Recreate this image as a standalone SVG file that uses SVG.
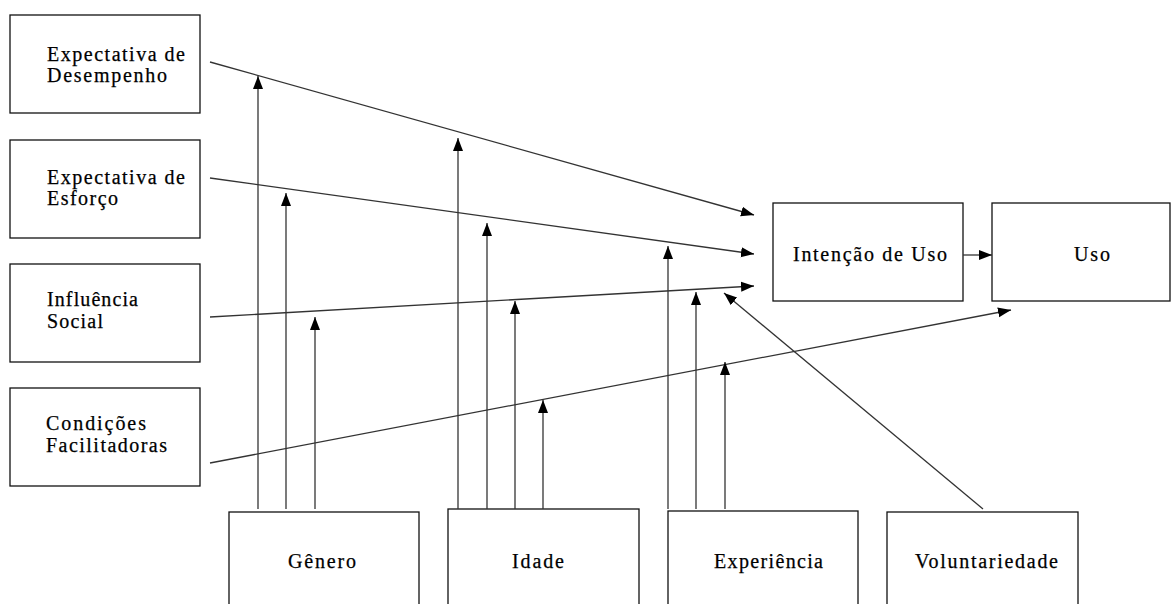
<svg xmlns="http://www.w3.org/2000/svg" width="1171" height="604" viewBox="0 0 1171 604">
<style>
.box{fill:#fff;stroke:#111;stroke-width:1.3}
.lbl{font-family:"Liberation Serif","Times New Roman",serif;font-size:20px;fill:#000;stroke:#000;stroke-width:0.25}
.ln{stroke:#333;stroke-width:1.3;fill:none}
</style>
<defs>
<marker id="ah" markerUnits="userSpaceOnUse" markerWidth="14" markerHeight="12" viewBox="0 0 14 12" refX="13" refY="6" orient="auto">
<path d="M0,1 L13,6 L0,11 Z" fill="#000"/>
</marker>
</defs>
<rect width="1171" height="604" fill="#fff"/>
<g id="n-desempenho"><rect class="box" x="10" y="15" width="190" height="98"/><text class="lbl" x="47" y="61" textLength="138" lengthAdjust="spacing">Expectativa de</text><text class="lbl" x="47" y="82" textLength="120" lengthAdjust="spacing">Desempenho</text></g>
<g id="n-esforco"><rect class="box" x="10" y="140" width="190" height="98"/><text class="lbl" x="47" y="184" textLength="138" lengthAdjust="spacing">Expectativa de</text><text class="lbl" x="47" y="205" textLength="71" lengthAdjust="spacing">Esforço</text></g>
<g id="n-influencia"><rect class="box" x="10" y="264" width="190" height="98"/><text class="lbl" x="47" y="306" textLength="91" lengthAdjust="spacing">Influência</text><text class="lbl" x="47" y="328" textLength="56" lengthAdjust="spacing">Social</text></g>
<g id="n-condicoes"><rect class="box" x="10" y="388" width="190" height="98"/><text class="lbl" x="46" y="430" textLength="100" lengthAdjust="spacing">Condições</text><text class="lbl" x="46" y="452" textLength="121" lengthAdjust="spacing">Facilitadoras</text></g>
<g id="n-intencao"><rect class="box" x="773" y="203" width="190" height="98"/><text class="lbl" x="793" y="261" textLength="154" lengthAdjust="spacing">Intenção de Uso</text></g>
<g id="n-uso"><rect class="box" x="992" y="203" width="178" height="98"/><text class="lbl" x="1074" y="261" textLength="36" lengthAdjust="spacing">Uso</text></g>
<g id="n-genero"><rect class="box" x="229" y="512" width="190" height="110"/><text class="lbl" x="288" y="568" textLength="68" lengthAdjust="spacing">Gênero</text></g>
<g id="n-idade"><rect class="box" x="448" y="509" width="191" height="110"/><text class="lbl" x="512" y="568" textLength="52" lengthAdjust="spacing">Idade</text></g>
<g id="n-experiencia"><rect class="box" x="668" y="511" width="190" height="110"/><text class="lbl" x="714" y="568" textLength="109" lengthAdjust="spacing">Experiência</text></g>
<g id="n-voluntariedade"><rect class="box" x="887" y="512" width="191" height="110"/><text class="lbl" x="915" y="568" textLength="143" lengthAdjust="spacing">Voluntariedade</text></g>
<g id="connectors">
<line class="ln" x1="210" y1="62" x2="754" y2="215" marker-end="url(#ah)"/>
<line class="ln" x1="210" y1="178" x2="754" y2="254" marker-end="url(#ah)"/>
<line class="ln" x1="210" y1="317" x2="754" y2="286" marker-end="url(#ah)"/>
<line class="ln" x1="210" y1="463" x2="1011" y2="310" marker-end="url(#ah)"/>
<line class="ln" x1="983" y1="509" x2="724" y2="293" marker-end="url(#ah)"/>
<line class="ln" x1="963" y1="255" x2="992" y2="255" marker-end="url(#ah)"/>
<line class="ln" x1="258" y1="509" x2="258" y2="76" marker-end="url(#ah)"/>
<line class="ln" x1="286" y1="509" x2="286" y2="193" marker-end="url(#ah)"/>
<line class="ln" x1="315" y1="509" x2="315" y2="317" marker-end="url(#ah)"/>
<line class="ln" x1="458" y1="509" x2="458" y2="138" marker-end="url(#ah)"/>
<line class="ln" x1="487" y1="509" x2="487" y2="223" marker-end="url(#ah)"/>
<line class="ln" x1="515" y1="509" x2="515" y2="301" marker-end="url(#ah)"/>
<line class="ln" x1="543" y1="509" x2="543" y2="400" marker-end="url(#ah)"/>
<line class="ln" x1="668" y1="509" x2="668" y2="246" marker-end="url(#ah)"/>
<line class="ln" x1="696" y1="509" x2="696" y2="292" marker-end="url(#ah)"/>
<line class="ln" x1="725" y1="509" x2="725" y2="362" marker-end="url(#ah)"/>
</g>
</svg>
